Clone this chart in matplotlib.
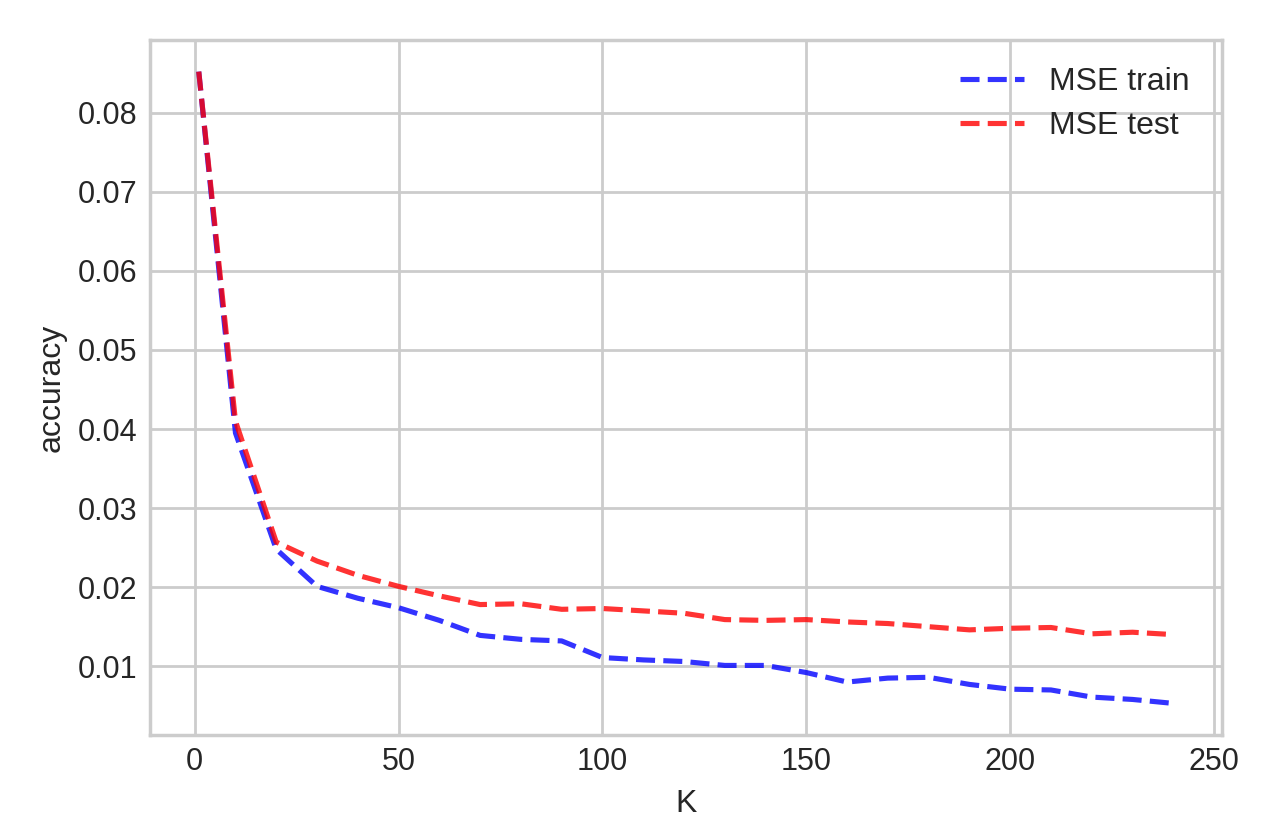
import numpy as np
import matplotlib
matplotlib.use("Agg")
import matplotlib.pyplot as plt

plt.style.use("seaborn-v0_8-whitegrid")
plt.rcParams["font.family"] = ["Liberation Sans", "DejaVu Sans"]

# K values and MSE
k_values = [1, 10, 20, 30, 40, 50, 60, 70, 80, 90, 100, 110, 120,
            130, 140, 150, 160, 170, 180, 190, 200, 210, 220, 230, 240]
mse_train = [0.0852, 0.0395, 0.0248, 0.0201, 0.0186, 0.0174, 0.0158, 0.0139, 0.0134, 0.0132, 0.0111, 0.0108, 0.0106,
             0.0101, 0.0101, 0.0092, 0.0080, 0.0085, 0.0086, 0.0077, 0.0071, 0.0070, 0.0061, 0.0058, 0.0053]
mse_test = [0.0852, 0.0410, 0.0257, 0.0233, 0.0215, 0.0201, 0.0189, 0.0178, 0.0179, 0.0172, 0.0173, 0.0170, 0.0167,
            0.0159, 0.0158, 0.0159, 0.0156, 0.0154, 0.0150, 0.0146, 0.0148, 0.0149, 0.0141, 0.0143, 0.0140]

fig = plt.figure(figsize=(6.39, 4.16), dpi=200)
ax = fig.add_axes([0.1174, 0.1166, 0.8388, 0.8353])

ax.plot(k_values, mse_train, "b--", lw=1.85, alpha=0.8, label="MSE train")
ax.plot(k_values, mse_test, "r--", lw=1.85, alpha=0.8, label="MSE test")

ax.set_xlabel("K", fontsize=11.5, color="#262626")
ax.set_ylabel("accuracy", fontsize=11.5, color="#262626")
ax.tick_params(labelsize=11, colors="#262626", pad=4.5, length=0)
ax.set_xticks([0, 50, 100, 150, 200, 250])

ax.grid(True, color="#cccccc", lw=1.0)
for sp in ax.spines.values():
    sp.set_visible(True)
    sp.set_color("#cccccc")
    sp.set_linewidth(1.25)

ax.legend(loc="upper right", bbox_to_anchor=(1.0, 1.007), fontsize=11.5, frameon=False,
          handlelength=2.0, borderaxespad=0.6, labelspacing=0.45)

fig.savefig("out.png", dpi=200)
